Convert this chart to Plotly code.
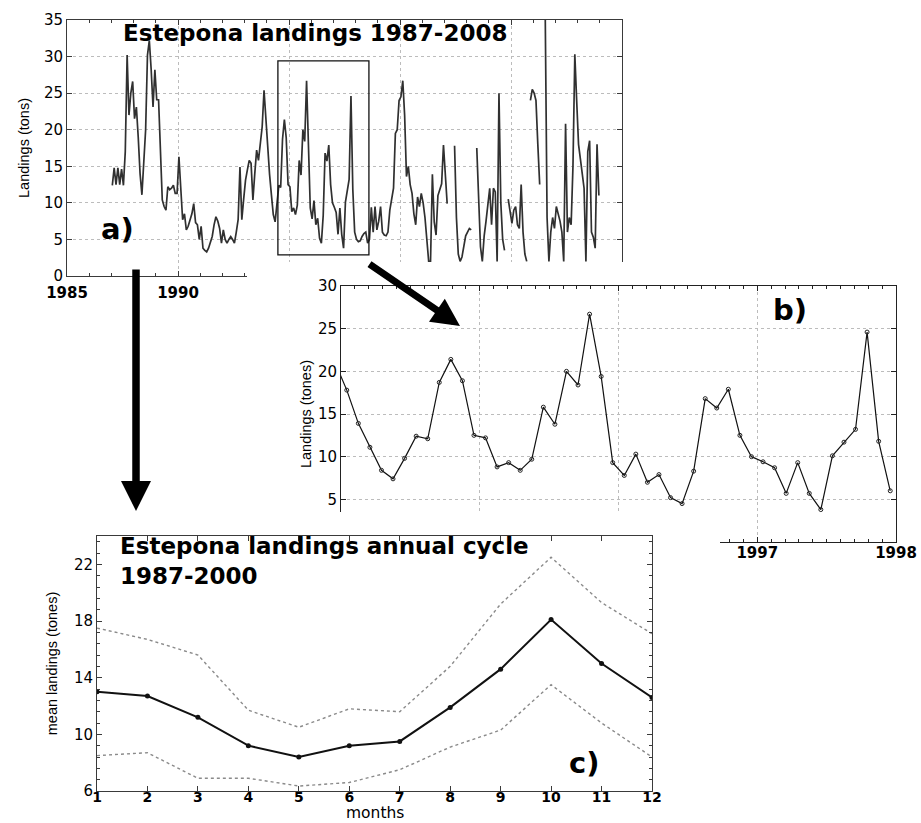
import numpy as np
import plotly.graph_objects as go

W, H = 921, 823
nan = np.nan

# ---------------- DATA ----------------
# a) Monthly Estepona landings (tons), Jan..Dec of each year (nan = no data)
land_1987 = [12.4, 14.8, 12.5, 14.8, 12.5, 14.6, 12.4, 17.0, 30.2, 22.0, 25.0, 26.6]
land_1988 = [21.5, 23.1, 19.0, 14.0, 11.1, 15.0, 20.0, 30.2, 32.2, 28.2, 23.1, 28.2]
land_1989 = [24.1, 24.1, 15.8, 10.4, 9.5, 9.0, 12.2, 11.8, 12.0, 12.4, 11.3, 11.3]
land_1990 = [16.3, 11.3, 7.7, 8.5, 6.3, 6.8, 7.7, 8.5, 9.9, 7.3, 7.0, 5.0]
land_1991 = [6.8, 3.8, 3.5, 3.3, 3.8, 4.6, 5.4, 7.0, 8.1, 7.5, 6.5, 4.5]
land_1992 = [6.3, 5.0, 4.5, 5.0, 5.4, 5.0, 4.5, 6.0, 7.7, 14.9, 7.7, 10.5]
land_1993 = [13.1, 14.5, 15.8, 15.4, 10.4, 14.0, 17.2, 15.8, 18.0, 20.4, 25.4, 21.0]
land_1994 = [17.8, 13.9, 11.1, 8.4, 7.4, 9.8, 12.4, 12.1, 18.7, 21.4, 18.9, 12.5]
land_1995 = [12.2, 8.8, 9.3, 8.4, 9.7, 15.8, 13.8, 20.0, 18.4, 26.7, 19.4, 9.3]
land_1996 = [7.8, 10.3, 7.0, 7.9, 5.2, 4.5, 8.3, 16.8, 15.7, 17.9, 12.5, 10.0]
land_1997 = [9.4, 8.7, 5.7, 9.3, 5.7, 3.8, 10.1, 11.7, 13.2, 24.6, 11.8, 6.0]
land_1998 = [5.0, 4.7, 4.8, 5.4, 5.8, 6.0, 4.5, 5.0, 9.4, 6.0, 9.5, 6.3]
land_1999 = [7.5, 9.5, 6.0, 5.6, 5.5, 6.0, 9.0, 10.5, 12.0, 19.5, 20.0, 24.0]
land_2000 = [24.5, 26.7, 22.0, 13.6, 15.0, 12.5, 11.3, 8.5, 7.0, 10.8, 9.5, 11.3]
land_2001 = [10.0, 8.0, 5.3, 2.0, 2.0, 13.9, 7.4, 5.6, 11.0, 12.0, 12.6, 17.9]
land_2002 = [13.0, 9.9, nan, nan, nan, 17.8, 8.0, 3.0, 2.0, 2.6, 4.2, 5.5]
land_2003 = [6.0, 6.5, 6.3, nan, nan, 17.5, 10.0, 4.0, 2.0, 5.5, 7.5, 9.5]
land_2004 = [12.0, 7.0, 12.0, 11.5, 2.0, 25.0, 10.0, 5.0, 3.5, nan, 10.5, 9.0]
land_2005 = [7.2, 9.0, 9.5, 7.0, 6.5, 12.5, 6.0, 3.0, 2.0, nan, 24.0, 25.5]
land_2006 = [25.0, 24.0, 18.0, 12.5, nan, nan, 36.0, 8.0, 2.0, 6.0, 8.0, 6.5]
land_2007 = [9.5, 8.5, 7.5, 6.0, 2.0, 20.8, 6.0, 8.0, 7.0, 15.0, 30.3, 24.0]
land_2008 = [18.0, 16.0, 14.0, 12.0, 2.0, 17.0, 18.5, 6.0, 5.3, 3.8, 18.0, 11.0]

years_a = list(range(1987, 2009))
yearly = [land_1987, land_1988, land_1989, land_1990, land_1991, land_1992,
          land_1993, land_1994, land_1995, land_1996, land_1997, land_1998,
          land_1999, land_2000, land_2001, land_2002, land_2003, land_2004,
          land_2005, land_2006, land_2007, land_2008]

# c) Annual cycle 1987-2000: mean and dotted envelope
months = [1, 2, 3, 4, 5, 6, 7, 8, 9, 10, 11, 12]
c_mean = [13.0, 12.7, 11.2, 9.2, 8.4, 9.2, 9.5, 11.9, 14.6, 18.1, 15.0, 12.6]
c_upper = [17.5, 16.7, 15.6, 11.7, 10.5, 11.8, 11.6, 14.8, 19.2, 22.5, 19.3, 17.1]
c_lower = [8.5, 8.7, 6.9, 6.9, 6.35, 6.6, 7.5, 9.1, 10.3, 13.5, 10.8, 8.4]

# tick labels (labels hidden under the overlapping panels are left empty)
a_xtick_vals = [1985, 1990, 1995, 2000, 2005, 2010]
a_xtick_text = ['1985', '1990', '', '', '', '']
a_ytick_vals = [0, 5, 10, 15, 20, 25, 30, 35]
a_ytick_text = ['0', '5', '10', '15', '20', '25', '30', '35']
b_xtick_vals = [1994, 1995, 1996, 1997, 1998]
b_xtick_text = ['', '', '', '1997', '1998']
b_ytick_vals = [0, 5, 10, 15, 20, 25, 30]
b_ytick_text = ['', '5', '10', '15', '20', '25', '30']
c_xtick_vals = months
c_xtick_text = [str(m) for m in months]
c_ytick_vals = [6, 10, 14, 18, 22]
c_ytick_text = ['6', '10', '14', '18', '22']

# ---------------- derived series ----------------
a_x = np.array([y + (m - 0.5) / 12.0 for y in years_a for m in range(1, 13)])
a_y = np.array([v for row in yearly for v in row], dtype=float)
# b) zoom on Dec 1993 - Dec 1997 (same data as a)
sel = (a_x > 1993.9) & (a_x < 1998.0)
b_x = a_x[sel]
b_y = a_y[sel]

# ---------------- layout helpers (pixel boxes) ----------------
def dx(x0, x1):
    return [x0 / W, x1 / W]

def dy(top, bottom):
    return [1 - bottom / H, 1 - top / H]

def px(x):
    return x / W

def py(y):
    return 1 - y / H

FRAME = '#3a3a3a'
GRID = '#bcbcbc'
TICKFONT = dict(family='DejaVu Sans', size=15, color='black')
XTICKFONT = dict(family='DejaVu Sans', size=15, color='black', weight='bold')
CXTICKFONT = dict(family='DejaVu Sans', size=14, color='black', weight='bold')
YTITLEFONT = dict(family='Liberation Sans', size=14.5, color='black')


def frame_axis(**kw):
    base = dict(showline=True, linecolor=FRAME, linewidth=1, mirror='ticks',
                ticks='inside', ticklen=5, tickcolor=FRAME, tickwidth=1,
                showgrid=False, zeroline=False, tickfont=TICKFONT,
                fixedrange=True, automargin=False, tickmode='array')
    base.update(kw)
    return base


def blank_axis(**kw):
    base = dict(range=[0, 1], showline=False, showgrid=False, zeroline=False,
                showticklabels=False, ticks='', fixedrange=True, automargin=False)
    base.update(kw)
    return base

fig = go.Figure()

# a) full series
fig.add_trace(go.Scatter(x=a_x, y=a_y, mode='lines', xaxis='x', yaxis='y',
                         line=dict(color='#303030', width=1.7),
                         showlegend=False, hoverinfo='skip'))
# white cover layers (empty subplots whose background hides what lies under them)
fig.add_trace(go.Scatter(x=[0.5], y=[0.5], mode='lines', xaxis='x2', yaxis='y2',
                         showlegend=False, hoverinfo='skip'))
# b) zoomed series
fig.add_trace(go.Scatter(x=b_x, y=b_y, mode='lines+markers', xaxis='x3', yaxis='y3',
                         line=dict(color='#111111', width=1.2),
                         marker=dict(symbol='circle-open', size=4, color='#222222',
                                     line=dict(width=1)),
                         showlegend=False, hoverinfo='skip'))
fig.add_trace(go.Scatter(x=[0.5], y=[0.5], mode='lines', xaxis='x4', yaxis='y4',
                         showlegend=False, hoverinfo='skip'))
# c) annual cycle
fig.add_trace(go.Scatter(x=months, y=c_upper, mode='lines', xaxis='x5', yaxis='y5',
                         line=dict(color='#8a8a8a', width=1.4, dash='dot'),
                         showlegend=False, hoverinfo='skip'))
fig.add_trace(go.Scatter(x=months, y=c_lower, mode='lines', xaxis='x5', yaxis='y5',
                         line=dict(color='#8a8a8a', width=1.4, dash='dot'),
                         showlegend=False, hoverinfo='skip'))
fig.add_trace(go.Scatter(x=months, y=c_mean, mode='lines+markers', xaxis='x5', yaxis='y5',
                         line=dict(color='#111111', width=2),
                         marker=dict(symbol='circle', size=5, color='#111111'),
                         showlegend=False, hoverinfo='skip'))

gridkw = dict(showgrid=True, gridcolor=GRID, griddash='dot', gridwidth=1)

fig.update_layout(
    template='none',
    width=W, height=H, autosize=False,
    margin=dict(l=0, r=0, t=0, b=0, pad=0),
    paper_bgcolor='#ffffff', plot_bgcolor='#ffffff',
    showlegend=False,
    # ---- panel a
    xaxis=frame_axis(domain=dx(67, 622), anchor='y', range=[1985, 2010],
                     tickvals=a_xtick_vals, ticktext=a_xtick_text, tickfont=XTICKFONT,
                     ticklabelstandoff=3,
                     minor=dict(dtick=1, tick0=1985, ticks='inside', ticklen=3,
                                tickcolor=FRAME, showgrid=False),
                     **gridkw),
    yaxis=frame_axis(domain=dy(20, 276), anchor='x', range=[0, 35],
                     tickvals=a_ytick_vals, ticktext=a_ytick_text,
                     title=dict(text='Landings (tons)', font=YTITLEFONT, standoff=10),
                     **gridkw),
    # ---- white cover behind panel b
    xaxis2=blank_axis(domain=dx(247, 921), anchor='y2'),
    yaxis2=blank_axis(domain=dy(262, 545), anchor='x2'),
    # ---- panel b
    xaxis3=frame_axis(domain=dx(341, 896), anchor='y3', range=[1994, 1998],
                      tickvals=b_xtick_vals, ticktext=b_xtick_text, tickfont=XTICKFONT,
                      ticklabelstandoff=-3,
                      linecolor='#222222', tickcolor='#222222',
                      minor=dict(dtick=0.1, tick0=1994, ticks='inside', ticklen=3,
                                 tickcolor='#222222', showgrid=False),
                      **gridkw),
    yaxis3=frame_axis(domain=dy(286, 542), anchor='x3', range=[0, 30],
                      tickvals=b_ytick_vals, ticktext=b_ytick_text,
                      linecolor='#222222', tickcolor='#222222',
                      title=dict(text='Landings (tones)', font=YTITLEFONT, standoff=2),
                      **gridkw),
    # ---- white cover behind panel c
    xaxis4=blank_axis(domain=dx(0, 720), anchor='y4'),
    yaxis4=blank_axis(domain=dy(512, 823), anchor='x4'),
    # ---- panel c
    xaxis5=frame_axis(domain=dx(97, 652), anchor='y5', range=[1, 12],
                      tickvals=c_xtick_vals, ticktext=c_xtick_text, tickfont=CXTICKFONT,
                      ticklabelstandoff=-7),
    yaxis5=frame_axis(domain=dy(536, 791), anchor='x5', range=[6, 24],
                      tickvals=c_ytick_vals, ticktext=c_ytick_text,
                      minor=dict(dtick=0.8, tick0=6, ticks='inside', ticklen=3,
                                 tickcolor=FRAME, showgrid=False),
                      title=dict(text='mean landings (tones)', font=YTITLEFONT, standoff=12)),
)

# zoom box on panel a
BOX_X0, BOX_X1, BOX_Y0, BOX_Y1 = 1994.5, 1998.6, 2.9, 29.4
fig.add_shape(type='rect', xref='x', yref='y', x0=BOX_X0, x1=BOX_X1, y0=BOX_Y0, y1=BOX_Y1,
              line=dict(color='#111111', width=1.3), fillcolor='rgba(0,0,0,0)')

TITLEFONT = dict(family='DejaVu Sans', size=23, color='black')
LABELFONT = dict(family='DejaVu Sans', size=29, color='black')

annos = [
    dict(text='<b>Estepona landings 1987-2008</b>', x=px(121), y=py(33),
         xanchor='left', yanchor='middle', font=TITLEFONT),
    dict(text='<b>a)</b>', x=px(99), y=py(229), xanchor='left', yanchor='middle', font=LABELFONT),
    dict(text='<b>b)</b>', x=px(771), y=py(310), xanchor='left', yanchor='middle', font=LABELFONT),
    dict(text='<b>c)</b>', x=px(567), y=py(763), xanchor='left', yanchor='middle', font=LABELFONT),
    dict(text='<b>Estepona landings annual cycle<br>1987-2000</b>', x=px(119), y=py(561),
         xanchor='left', yanchor='middle', align='left', font=TITLEFONT, borderpad=0),
    # x-axis title of panel c, centred under its axis
    dict(text='months', x=(97 + 652) / 2 / W, y=0, xanchor='center', yanchor='bottom',
         font=dict(family='DejaVu Sans', size=15.5, color='black'), borderpad=0),
]
for a in annos:
    fig.add_annotation(xref='paper', yref='paper', showarrow=False, **a)

# arrows
fig.add_annotation(xref='paper', yref='paper', x=px(460), y=py(326), ax=368 - 460, ay=263 - 326,
                   axref='pixel', ayref='pixel', text='', showarrow=True,
                   arrowhead=2, arrowsize=0.8, arrowwidth=7, arrowcolor='black')
fig.add_annotation(xref='paper', yref='paper', x=px(136), y=py(511), ax=0, ay=268 - 511,
                   axref='pixel', ayref='pixel', text='', showarrow=True,
                   arrowhead=2, arrowsize=0.8, arrowwidth=7.5, arrowcolor='black')

fig.write_html("out.html")
